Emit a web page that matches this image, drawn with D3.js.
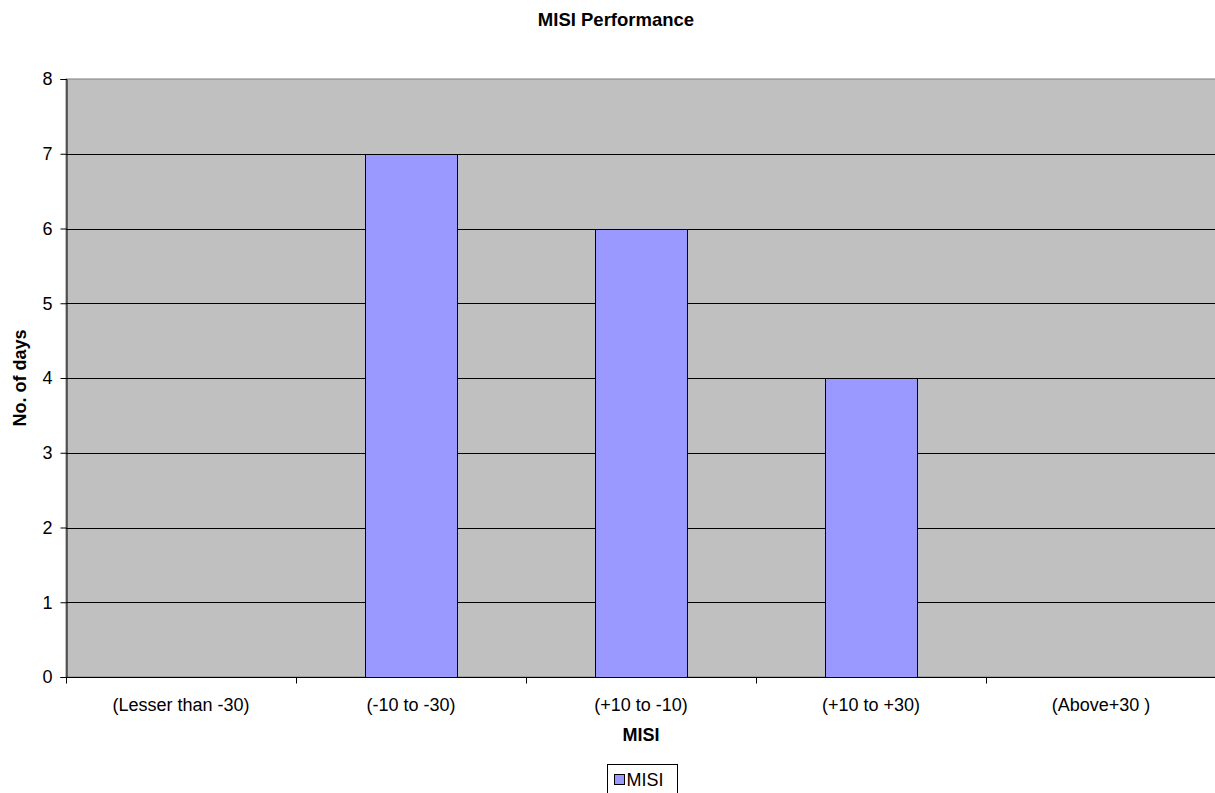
<!DOCTYPE html>
<html>
<head>
<meta charset="utf-8">
<script src="https://cdn.jsdelivr.net/npm/d3@7"></script>
<style>
  body { margin: 0; background: #fff; overflow: hidden; }
  svg { display: block; font-family: "Liberation Sans", Arial, sans-serif; }
</style>
</head>
<body>
<div id="chart"></div>
<script>
const categories = ["(Lesser than -30)", "(-10 to -30)", "(+10 to -10)", "(+10 to +30)", "(Above+30 )"];
const misi_values = [0, 7, 6, 4, 0];
const y_ticks = [0, 1, 2, 3, 4, 5, 6, 7, 8];

const width = 1215, height = 793;
const plot = {left: 66, top: 79, right: 1216, bottom: 677};

const svg = d3.select("#chart")
  .append("svg")
    .attr("width", width)
    .attr("height", height);

let x = d3.scaleBand()
  .domain(categories)
  .range([plot.left, plot.right])
  .paddingInner(0)
  .paddingOuter(0);
let y = d3.scaleLinear()
  .domain([0, 8])
  .range([plot.bottom, plot.top]);

// plot background
svg.append("rect")
  .attr("x", plot.left)
  .attr("y", plot.top)
  .attr("width", plot.right - plot.left)
  .attr("height", plot.bottom - plot.top)
  .attr("fill", "#c0c0c0")
  .attr("stroke", "#808080")
  .attr("stroke-width", 1);

// gridlines
svg.append("g")
  .selectAll("line")
  .data(y_ticks.filter(d => d > 0 && d < 8))
  .enter()
  .append("line")
    .attr("x1", plot.left)
    .attr("x2", plot.right)
    .attr("y1", d => Math.round(y(d)) + 0.5)
    .attr("y2", d => Math.round(y(d)) + 0.5)
    .attr("stroke", "#000")
    .attr("stroke-width", 1);

// bars
const bar_w = x.bandwidth() * 0.4;
svg.append("g")
  .selectAll("rect")
  .data(categories.map((c, i) => ({name: c, value: misi_values[i]})))
  .enter()
  .filter(d => d.value > 0)
  .append("rect")
    .attr("x", d => Math.round(x(d.name) + (x.bandwidth() - bar_w) / 2) + 0.5)
    .attr("y", d => Math.round(y(d.value)) + 0.5)
    .attr("width", bar_w)
    .attr("height", d => Math.round(y(0)) - Math.round(y(d.value)))
    .attr("fill", "#9999ff")
    .attr("stroke", "#000")
    .attr("stroke-width", 1);

// y axis
const y_axis = svg.append("g")
  .attr("transform", "translate(" + (plot.left + 0.5) + ",0)")
  .call(d3.axisLeft(y).tickValues(y_ticks).tickSize(6).tickPadding(8).tickFormat(d3.format("d")));
y_axis.select(".domain").attr("stroke", "#000");
y_axis.selectAll("text")
  .attr("font-size", "18px")
  .attr("font-family", "Liberation Sans, Arial, sans-serif")
  .attr("fill", "#000");

// x axis
const x_axis = svg.append("g")
  .attr("transform", "translate(0," + (Math.round(y(0)) + 0.5) + ")");
x_axis.append("line")
  .attr("x1", plot.left)
  .attr("x2", plot.right)
  .attr("stroke", "#000");
x_axis.selectAll(".tick-line")
  .data(categories)
  .enter()
  .append("line")
    .attr("x1", d => Math.round(x(d)) + 0.5)
    .attr("x2", d => Math.round(x(d)) + 0.5)
    .attr("y1", 0)
    .attr("y2", 6)
    .attr("stroke", "#000");
x_axis.selectAll(".tick-label")
  .data(categories)
  .enter()
  .append("text")
    .attr("x", d => x(d) + x.bandwidth() / 2)
    .attr("y", 33)
    .attr("text-anchor", "middle")
    .attr("font-size", "18px")
    .text(d => d);

// titles
svg.append("text")
  .attr("x", 616)
  .attr("y", 26)
  .attr("text-anchor", "middle")
  .attr("font-size", "18.5px")
  .attr("font-weight", "bold")
  .text("MISI Performance");

svg.append("text")
  .attr("x", 641)
  .attr("y", 741)
  .attr("text-anchor", "middle")
  .attr("font-size", "18px")
  .attr("font-weight", "bold")
  .text("MISI");

svg.append("text")
  .attr("transform", "translate(26," + ((plot.top + plot.bottom) / 2) + ") rotate(-90)")
  .attr("text-anchor", "middle")
  .attr("font-size", "18px")
  .attr("font-weight", "bold")
  .text("No. of days");

// legend
const legend = svg.append("g").attr("transform", "translate(607.5,764.5)");
legend.append("rect")
  .attr("width", 70)
  .attr("height", 40)
  .attr("fill", "#fff")
  .attr("stroke", "#000");
legend.append("rect")
  .attr("x", 7)
  .attr("y", 10)
  .attr("width", 10)
  .attr("height", 10)
  .attr("fill", "#9999ff")
  .attr("stroke", "#000");
legend.append("text")
  .attr("x", 19)
  .attr("y", 21)
  .attr("font-size", "18px")
  .text("MISI");
</script>
</body>
</html>
